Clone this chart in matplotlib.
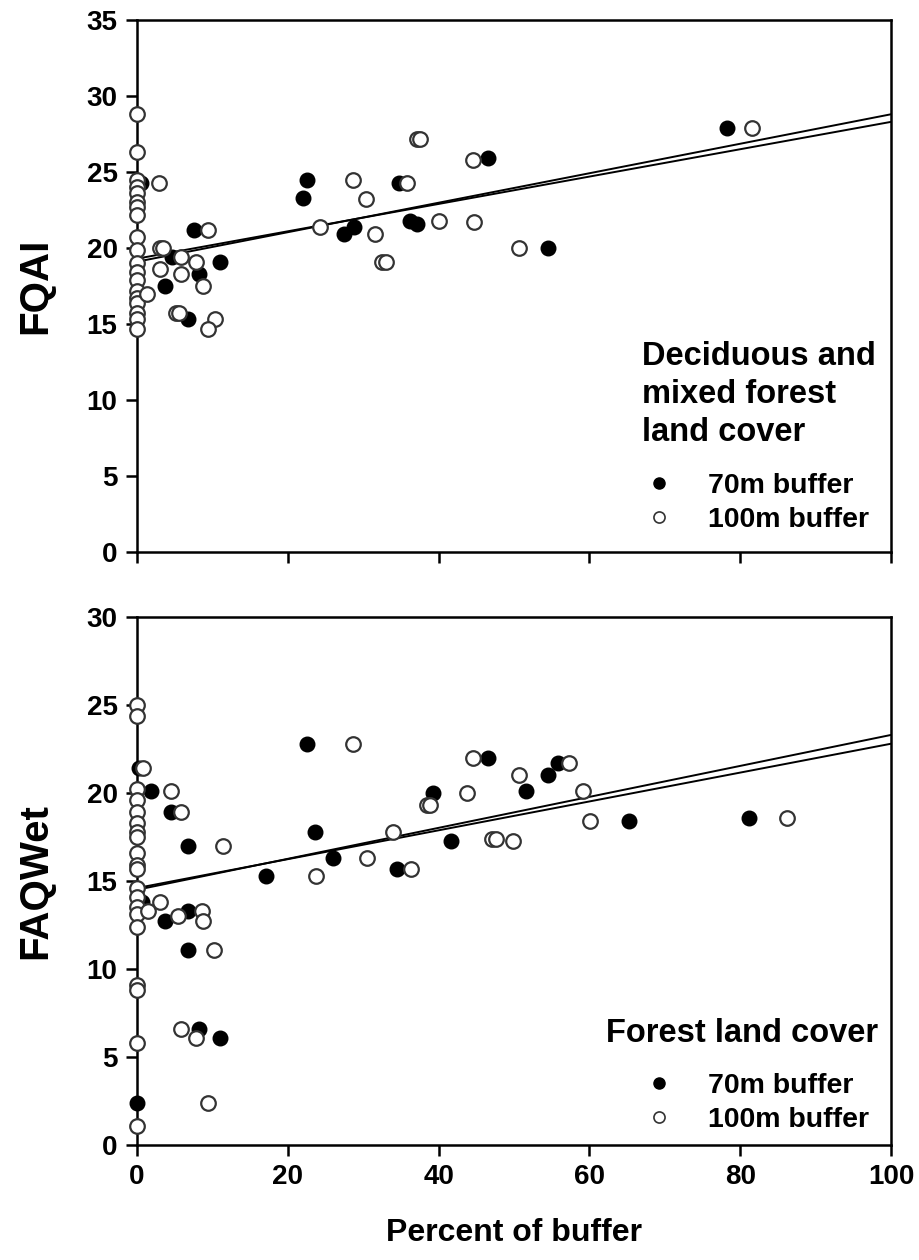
import numpy as np
import matplotlib
matplotlib.use("Agg")
import matplotlib.pyplot as plt
from matplotlib.lines import Line2D

plt.rcParams['font.family'] = ['Liberation Sans', 'DejaVu Sans']
plt.rcParams['font.weight'] = 'bold'

# ---- top panel: FQAI vs deciduous/mixed forest cover ----
fqai_x70 = [0.5, 22.0, 22.5, 7.5, 4.6, 3.7, 8.2, 11.0, 6.8, 27.4, 28.8,
            34.7, 36.2, 37.2, 46.6, 54.5, 78.2]
fqai_y70 = [24.3, 23.3, 24.5, 21.2, 19.4, 17.5, 18.3, 19.1, 15.3, 20.9, 21.4,
            24.3, 21.8, 21.6, 25.9, 20.0, 27.9]

fqai_x100 = [0, 0, 0, 0, 0, 0, 0, 0, 0, 0, 0, 0, 0, 0, 0, 0, 0, 0, 0,
             2.9, 9.4, 3.0, 3.5, 5.8, 7.8, 3.0, 5.9, 8.8, 1.3, 5.2, 5.6,
             10.3, 9.4, 28.6, 30.4, 35.8, 37.2, 37.5, 44.6, 24.3, 31.5,
             40.1, 44.7, 32.5, 33.0, 50.7, 81.5]
fqai_y100 = [28.8, 26.3, 24.5, 24.0, 23.6, 23.0, 22.7, 22.2, 20.7, 19.9,
             19.0, 18.4, 17.9, 17.2, 16.7, 16.4, 15.7, 15.3, 14.7,
             24.3, 21.2, 20.0, 20.0, 19.4, 19.1, 18.6, 18.3, 17.5, 17.0,
             15.7, 15.7, 15.3, 14.7, 24.5, 23.2, 24.3, 27.2, 27.2, 25.8,
             21.4, 20.9, 21.8, 21.7, 19.1, 19.1, 20.0, 27.9]

# fitted lines (intercept, slope)
fqai_fit70 = (19.1, 0.097)
fqai_fit100 = (19.3, 0.090)

# ---- bottom panel: FAQWet vs forest cover ----
faq_x70 = [0.3, 1.8, 4.5, 6.8, 0.6, 3.7, 6.8, 6.8, 8.2, 11.0, 0, 22.5, 23.6,
           17.1, 26.0, 34.5, 39.2, 41.7, 46.6, 51.6, 54.5, 55.9, 65.2, 81.1]
faq_y70 = [21.4, 20.1, 18.9, 17.0, 13.8, 12.7, 13.3, 11.1, 6.6, 6.1, 2.4, 22.8,
           17.8, 15.3, 16.3, 15.7, 20.0, 17.3, 22.0, 20.1, 21.0, 21.7, 18.4, 18.6]

faq_x100 = [0, 0, 0, 0, 0, 0, 0, 0, 0, 0, 0, 0, 0, 0, 0, 0, 0, 0, 0, 0,
            0.8, 4.5, 5.8, 11.4, 3.0, 1.4, 5.5, 8.6, 8.8, 10.2, 5.8, 7.8,
            9.4, 28.6, 23.7, 30.5, 33.9, 36.3, 38.4, 38.8, 43.8, 44.6,
            47.1, 47.6, 49.9, 50.7, 57.3, 59.2, 60.1, 86.2]
faq_y100 = [25.0, 24.4, 20.2, 19.6, 18.9, 18.3, 17.8, 17.5, 16.6, 15.9,
            15.7, 14.6, 14.1, 13.5, 13.1, 12.4, 9.1, 8.8, 5.8, 1.1,
            21.4, 20.1, 18.9, 17.0, 13.8, 13.3, 13.0, 13.3, 12.7, 11.1,
            6.6, 6.1, 2.4, 22.8, 15.3, 16.3, 17.8, 15.7, 19.3, 19.3, 20.0,
            22.0, 17.4, 17.4, 17.3, 21.0, 21.7, 20.1, 18.4, 18.6]

faq_fit70 = (14.5, 0.088)
faq_fit100 = (14.6, 0.082)

x_ticks = [0, 20, 40, 60, 80, 100]
fqai_ticks = [0, 5, 10, 15, 20, 25, 30, 35]
faq_ticks = [0, 5, 10, 15, 20, 25, 30]

fig = plt.figure(figsize=(9.2, 12.6), dpi=100)
ax1 = fig.add_axes([0.1489, 0.5619, 0.8196, 0.4222])
ax2 = fig.add_axes([0.1489, 0.0913, 0.8196, 0.4190])


def draw_panel(ax, x70, y70, x100, y100, fit70, fit100, ymax, yticks):
    xs = np.array([0, 100])
    for b0, b1 in (fit70, fit100):
        ax.plot(xs, b0 + b1 * xs, color='black', lw=1.4, zorder=2)
    ax.scatter(x70, y70, s=110, c='black', edgecolors='black', lw=1.0,
               zorder=3, clip_on=False)
    ax.scatter(x100, y100, s=110, c='white', edgecolors='#333333', lw=1.6,
               zorder=4, clip_on=False)
    ax.set_xlim(0, 100)
    ax.set_ylim(0, ymax)
    ax.set_xticks(x_ticks)
    ax.set_yticks(yticks)
    ax.tick_params(direction='out', length=8, width=1.8, labelsize=20, pad=6)
    for sp in ax.spines.values():
        sp.set_linewidth(1.8)
    ax.yaxis.set_label_coords(-0.11, 0.5)


def legend_entries(ax, x, y):
    handles = [Line2D([], [], ls='none', marker='o', ms=8, mfc='black', mec='black'),
               Line2D([], [], ls='none', marker='o', ms=8, mfc='white', mec='#333333', mew=1.2)]
    leg = ax.legend(handles, ['70m buffer', '100m buffer'], loc='lower left',
                    bbox_to_anchor=(x, y), frameon=False, fontsize=20.5,
                    handlelength=2.0, handletextpad=0.74, labelspacing=0.3,
                    borderaxespad=0, borderpad=0)
    return leg


draw_panel(ax1, fqai_x70, fqai_y70, fqai_x100, fqai_y100,
           fqai_fit70, fqai_fit100, 35, fqai_ticks)
ax1.set_xticklabels([])
ax1.set_ylabel('FQAI', fontsize=29, fontweight='bold')
ax1.text(0.67, 0.397, 'Deciduous and\nmixed forest\nland cover', transform=ax1.transAxes,
         fontsize=23.5, fontweight='bold', ha='left', va='top', linespacing=1.3)
legend_entries(ax1, 0.654, 0.035)

draw_panel(ax2, faq_x70, faq_y70, faq_x100, faq_y100,
           faq_fit70, faq_fit100, 30, faq_ticks)
ax2.set_ylabel('FAQWet', fontsize=29, fontweight='bold')
ax2.set_xlabel('Percent of buffer', fontsize=23, fontweight='bold', labelpad=20)
ax2.text(0.983, 0.24, 'Forest land cover', transform=ax2.transAxes,
         fontsize=23.5, fontweight='bold', ha='right', va='top')
legend_entries(ax2, 0.654, 0.022)

fig.savefig('out.png', dpi=100)
